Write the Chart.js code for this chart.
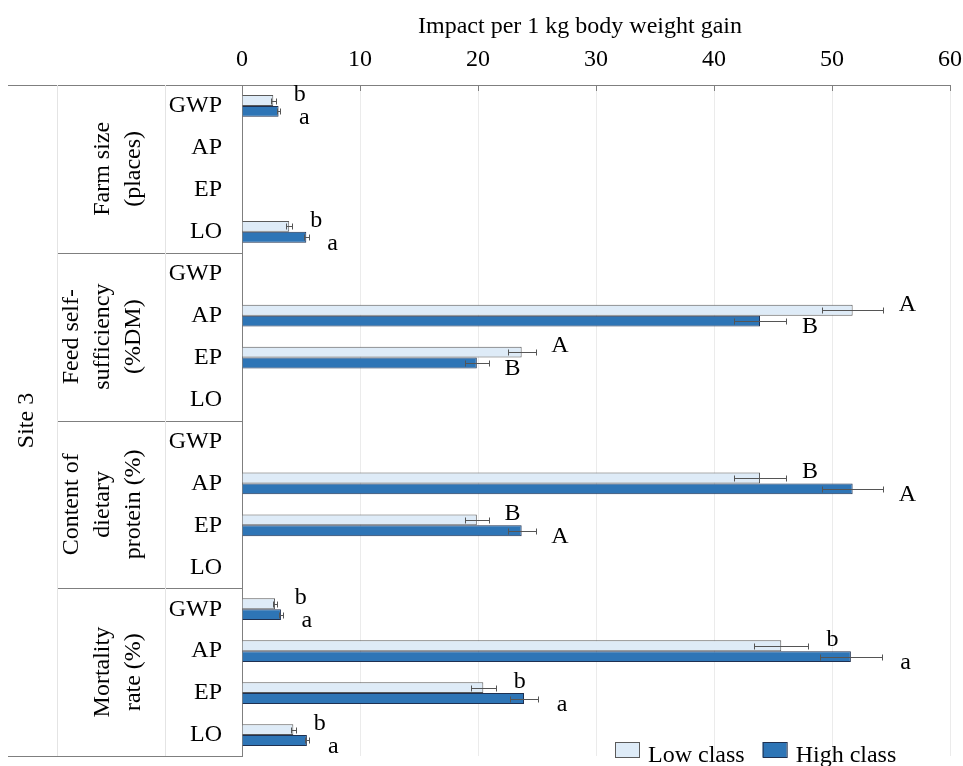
<!DOCTYPE html>
<html>
<head>
<meta charset="utf-8">
<script src="https://cdn.jsdelivr.net/npm/chart.js@4/dist/chart.umd.min.js"></script>
<style>
  html, body { margin: 0; padding: 0; background: #ffffff; }
  #wrap { width: 963px; height: 766px; position: relative; }
</style>
</head>
<body>
<div id="wrap"><canvas id="chart"></canvas></div>
<script>
// rows of the chart, top to bottom
const indicators = ['GWP', 'AP', 'EP', 'LO'];
const groups = [
  ['Farm size', '(places)'],
  ['Feed self-', 'sufficiency', '(%DM)'],
  ['Content of', 'dietary', 'protein (%)'],
  ['Mortality', 'rate (%)'],
];
const siteLabel = 'Site 3';
const axisTitle = 'Impact per 1 kg body weight gain';
const seriesNames = ['Low class', 'High class'];

const rowLabels = groups.flatMap(() => indicators);

const lowValues = [2.65, null, null, 4.0, null, 51.75, 23.7, null, null, 43.9, 19.9, null, 2.8, 45.7, 20.45, 4.35];
const highValues = [3.1, null, null, 5.45, null, 43.9, 19.9, null, null, 51.75, 23.7, null, 3.3, 51.6, 23.9, 5.5];
const lowErr = [0.2, null, null, 0.25, null, 2.6, 1.2, null, null, 2.2, 1.0, null, 0.15, 2.3, 1.05, 0.2];
const highErr = [0.15, null, null, 0.2, null, 2.2, 1.0, null, null, 2.6, 1.2, null, 0.15, 2.6, 1.2, 0.2];
const lowLetters = ['b', null, null, 'b', null, 'A', 'A', null, null, 'B', 'B', null, 'b', 'b', 'b', 'b'];
const highLetters = ['a', null, null, 'a', null, 'B', 'B', null, null, 'A', 'A', null, 'a', 'a', 'a', 'a'];

const SERIF = '"Liberation Serif", "Times New Roman", serif';
const LINE = '#7f7f7f';

const errors = [lowErr, highErr];
const letters = [lowLetters, highLetters];

function drawErrorBars(chart) {
  const ctx = chart.ctx;
  const x = chart.scales.x;
  ctx.save();
  ctx.strokeStyle = '#555555';
  ctx.lineWidth = 1;
  chart.data.datasets.forEach((ds, d) => {
    const meta = chart.getDatasetMeta(d);
    meta.data.forEach((bar, i) => {
      const v = ds.data[i];
      const e = errors[d][i];
      if (v == null || e == null) return;
      const x1 = Math.round(x.getPixelForValue(v - e)) + 0.5;
      const x2 = Math.round(x.getPixelForValue(v + e)) + 0.5;
      const yy = Math.round(bar.y) + 0.5;
      ctx.beginPath();
      ctx.moveTo(x1, yy);
      ctx.lineTo(x2, yy);
      ctx.moveTo(x1, yy - 3);
      ctx.lineTo(x1, yy + 3);
      ctx.moveTo(x2, yy - 3);
      ctx.lineTo(x2, yy + 3);
      ctx.stroke();
    });
  });
  ctx.restore();
}

function drawLetters(chart) {
  const ctx = chart.ctx;
  const x = chart.scales.x;
  ctx.save();
  ctx.font = '24px ' + SERIF;
  ctx.fillStyle = '#000000';
  ctx.textAlign = 'center';
  ctx.textBaseline = 'middle';
  chart.data.datasets.forEach((ds, d) => {
    const meta = chart.getDatasetMeta(d);
    meta.data.forEach((bar, i) => {
      const t = letters[d][i];
      const v = ds.data[i];
      if (!t || v == null) return;
      const end = x.getPixelForValue(v + (errors[d][i] || 0));
      ctx.fillText(t, end + 24, bar.y + (d === 0 ? -6 : 6));
    });
  });
  ctx.restore();
}

function drawFrame(chart) {
  const { ctx, chartArea, scales } = chart;
  const y = scales.y;
  const x = scales.x;
  ctx.save();
  ctx.strokeStyle = LINE;
  ctx.lineWidth = 1;
  ctx.beginPath();
  // top line, reaching left over the label columns
  ctx.moveTo(8, chartArea.top + 0.5);
  ctx.lineTo(chartArea.left, chartArea.top + 0.5);
  // bottom line
  ctx.moveTo(8, Math.round(chartArea.bottom) + 0.5);
  ctx.lineTo(chartArea.left, Math.round(chartArea.bottom) + 0.5);
  // separators between the groups
  for (let g = 1; g < groups.length; g++) {
    const yy = Math.round(y.getPixelForValue(g * indicators.length - 0.5)) + 0.5;
    ctx.moveTo(57, yy);
    ctx.lineTo(chartArea.left, yy);
  }
  ctx.stroke();

  // faint column lines
  ctx.strokeStyle = '#e4e4e4';
  ctx.beginPath();
  [57.5, 165.5].forEach((cx) => {
    ctx.moveTo(cx, chartArea.top);
    ctx.lineTo(cx, chartArea.bottom);
  });
  ctx.stroke();

  // inner tick marks on the top axis
  ctx.strokeStyle = LINE;
  ctx.beginPath();
  x.ticks.forEach((t) => {
    const px = Math.round(x.getPixelForValue(t.value)) + 0.5;
    ctx.moveTo(px, chartArea.top);
    ctx.lineTo(px, chartArea.top + 6);
  });
  ctx.stroke();

  // axis title
  ctx.fillStyle = '#000000';
  ctx.font = '24px ' + SERIF;
  ctx.textAlign = 'center';
  ctx.textBaseline = 'middle';
  ctx.fillText(axisTitle, 580, 27);

  // group labels, rotated
  groups.forEach((lines, g) => {
    const cy = y.getPixelForValue(g * indicators.length + (indicators.length - 1) / 2);
    lines.forEach((line, k) => {
      const cx = 134 - (lines.length - 1 - k) * 31;
      ctx.save();
      ctx.translate(cx, cy);
      ctx.rotate(-Math.PI / 2);
      ctx.fillText(line, 0, 0);
      ctx.restore();
    });
  });

  // site label
  ctx.save();
  ctx.translate(27, (chartArea.top + chartArea.bottom) / 2);
  ctx.rotate(-Math.PI / 2);
  ctx.fillText(siteLabel, 0, 0);
  ctx.restore();
  ctx.restore();
}

function drawLegend(chart) {
  const ctx = chart.ctx;
  ctx.save();
  ctx.font = '24px ' + SERIF;
  ctx.textBaseline = 'alphabetic';
  ctx.textAlign = 'left';
  let px = 615;
  chart.data.datasets.forEach((ds) => {
    ctx.fillStyle = ds.backgroundColor;
    ctx.fillRect(px, 742, 24, 15);
    ctx.strokeStyle = ds.borderColor;
    ctx.lineWidth = 1;
    ctx.strokeRect(px + 0.5, 742.5, 24, 15);
    ctx.fillStyle = '#000000';
    ctx.fillText(ds.label, px + 33, 762);
    px += 33 + ctx.measureText(ds.label).width + 18;
  });
  ctx.restore();
}

const decorPlugin = {
  id: 'decor',
  afterDatasetsDraw(chart) {
    drawErrorBars(chart);
  },
  afterDraw(chart) {
    drawFrame(chart);
    drawLetters(chart);
    drawLegend(chart);
  },
};

function init() {
  const ctx = document.getElementById('chart');
  new Chart(ctx, {
    type: 'bar',
    data: {
      labels: rowLabels,
      datasets: [
        {
          label: seriesNames[0],
          data: lowValues,
          backgroundColor: '#deebf7',
          borderColor: '#5a5a5a',
          borderWidth: 1,
        },
        {
          label: seriesNames[1],
          data: highValues,
          backgroundColor: '#2e75b6',
          borderColor: '#1f3050',
          borderWidth: 1,
        },
      ],
    },
    options: {
      indexAxis: 'y',
      responsive: true,
      maintainAspectRatio: false,
      animation: false,
      categoryPercentage: 0.52,
      barPercentage: 1.0,
      layout: { padding: { left: 0, top: 0, right: 13, bottom: 10 } },
      plugins: {
        legend: { display: false },
        tooltip: { enabled: false },
      },
      scales: {
        x: {
          position: 'top',
          min: 0,
          max: 60,
          ticks: {
            stepSize: 10,
            color: '#000000',
            padding: 11,
            font: { family: SERIF, size: 24 },
          },
          grid: { color: '#ebebeb', drawTicks: false },
          border: { color: LINE },
          afterFit: (scale) => {
            scale.height = 85;
            scale.paddingLeft = 0;
            scale.paddingRight = 0;
          },
        },
        y: {
          ticks: {
            color: '#000000',
            padding: 20,
            font: { family: SERIF, size: 24 },
          },
          grid: { display: false, drawTicks: false },
          border: { color: LINE },
          afterFit: (scale) => {
            scale.width = 242;
            scale.paddingTop = 0;
            scale.paddingBottom = 0;
          },
        },
      },
    },
    plugins: [decorPlugin],
  });
}

document.addEventListener('DOMContentLoaded', init);
</script>
</body>
</html>
